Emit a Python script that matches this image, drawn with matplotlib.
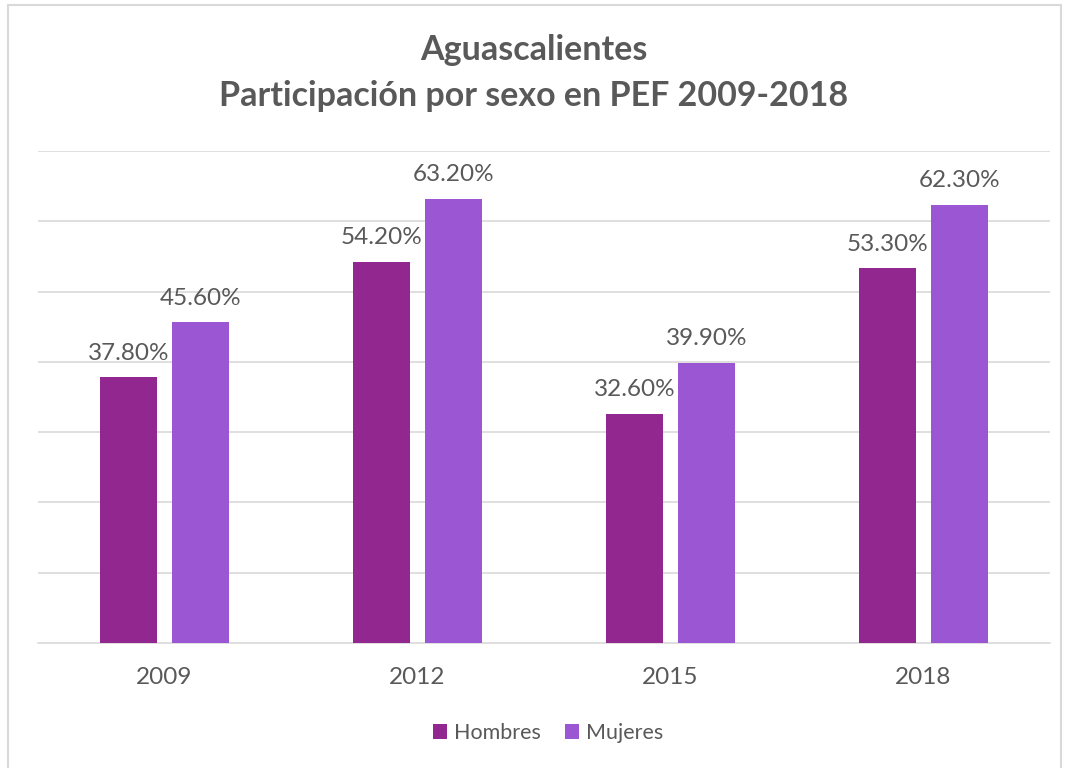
import matplotlib
matplotlib.use("Agg")
import matplotlib.pyplot as plt
from matplotlib.patches import Rectangle
import numpy as np

years = ["2009", "2012", "2015", "2018"]
hombres = [37.8, 54.2, 32.6, 53.3]
mujeres = [45.6, 63.2, 39.9, 62.3]
series_names = ["Hombres", "Mujeres"]
colors = ["#92278F", "#9B57D3"]
title = "Aguascalientes\nParticipación por sexo en PEF 2009-2018"

plt.rcParams['font.family'] = ['Lato', 'DejaVu Sans']
TXT = "#595959"

W, H = 1068, 768
fig = plt.figure(figsize=(W/100, H/100), dpi=100)
fig.patches.append(Rectangle((8/W, -0.01), (1061-8)/W, (H-5)/H + 0.01, transform=fig.transFigure,
                             fill=False, edgecolor="#D9D9D9", linewidth=1.5))

ax = fig.add_axes([38/W, (H-643)/H, (1050-38)/W, (643-151)/H])
x = np.arange(len(years))
bw = 57/253
off = 36/253
bars_h = ax.bar(x - off, hombres, bw, color=colors[0], label=series_names[0], zorder=3)
bars_m = ax.bar(x + off, mujeres, bw, color=colors[1], label=series_names[1], zorder=3)

for bars, vals in ((bars_h, hombres), (bars_m, mujeres)):
    for b, v in zip(bars, vals):
        ax.annotate(f"{v:.2f}%", (b.get_x() + b.get_width()/2, v), xytext=(0, 17.5),
                    textcoords="offset points", ha="center", va="center",
                    fontsize=17.5, color=TXT)

ax.set_ylim(0, 70)
ax.set_xlim(-0.5, 3.5)
ax.set_yticks(np.arange(10, 71, 10))
ax.yaxis.grid(True, color="#D9D9D9", linewidth=1.2, zorder=0)
ax.tick_params(axis="y", left=False, labelleft=False)
ax.set_xticks(x)
ax.set_xticklabels(years, fontsize=17.5, color=TXT)
ax.tick_params(axis="x", length=0, pad=17)
for s in ("top", "right", "left"):
    ax.spines[s].set_visible(False)
ax.spines["bottom"].set_color("#D9D9D9")
ax.spines["bottom"].set_linewidth(1.2)

fig.text(0.5, (H-73)/H, title, ha="center", va="center", fontsize=24.5, fontweight="bold",
         color=TXT, linespacing=1.5)

fig.legend(handles=[bars_h, bars_m], labels=series_names, loc="center",
           bbox_to_anchor=(548/W, (H-733)/H), ncol=2, frameon=False, fontsize=15.5,
           labelcolor=TXT, handlelength=0.65, handleheight=0.65, handletextpad=0.35,
           columnspacing=1.1)

fig.savefig("out.png", dpi=100)
